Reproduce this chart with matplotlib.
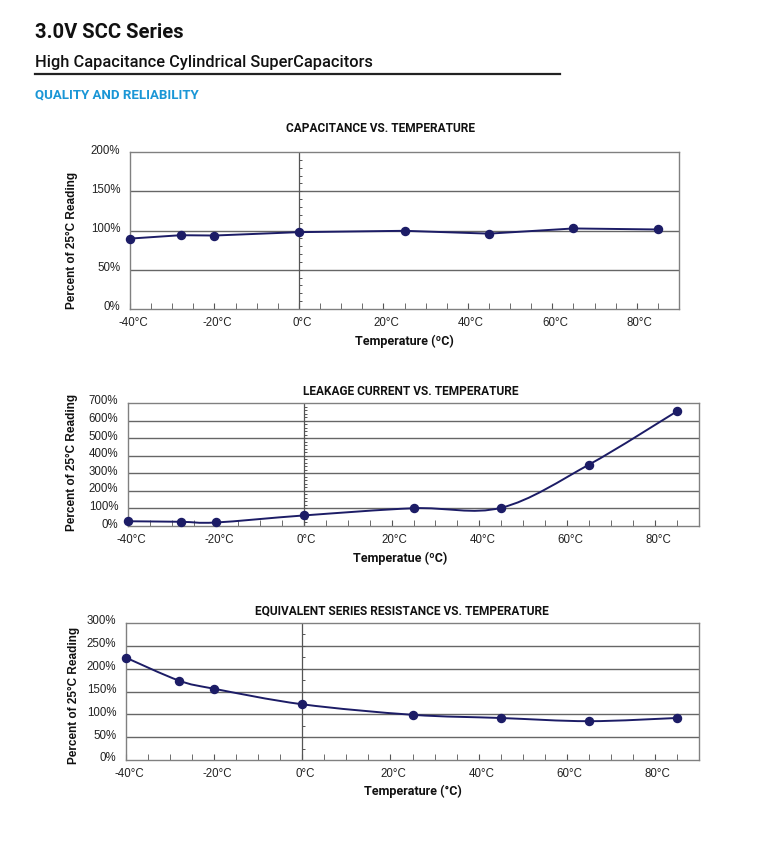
import matplotlib.pyplot as plt
import numpy as np
from matplotlib.path import Path
from matplotlib.patches import PathPatch
from matplotlib.transforms import ScaledTranslation

plt.rcParams['font.family'] = ['Roboto', 'DejaVu Sans']

temps = [-40, -28, -20, 0, 25, 45, 65, 85]
capacitance = [89.7, 94, 93.6, 97.9, 99.6, 96, 102.6, 101.3]
leakage = [27, 24, 20, 60, 101, 104, 350, 653]
esr = [224, 174, 156, 122, 99, 92, 85, 92]

x_ticks = [-40, -20, 0, 20, 40, 60, 80]
x_labels = [f'{t}°C' for t in x_ticks]

W, H = 765, 853
LINE = '#1c1c66'
GRID = '#666666'
TICKFONT = ['Liberation Sans', 'DejaVu Sans']


def box(l, t, r, b):
    return [l / W, 1 - b / H, (r - l) / W, (b - t) / H]


def smooth_path(xs, ys):
    # catmull-rom through the points, as bezier segments
    p = np.column_stack([xs, ys]).astype(float)
    ext = np.vstack([p[0], p, p[-1]])
    verts = [p[0]]
    codes = [Path.MOVETO]
    for i in range(len(p) - 1):
        p0, p1, p2, p3 = ext[i], ext[i + 1], ext[i + 2], ext[i + 3]
        verts += [p1 + (p2 - p0) / 6, p2 - (p3 - p1) / 6, p2]
        codes += [Path.CURVE4] * 3
    return Path(verts, codes)


def chart(fig, rect, values, ymax, ystep, zstep, smooth, title, title_xy,
          xlabel, xlabel_xy, ylabel_xy):
    ax = fig.add_axes(box(*rect))
    ax.set_xlim(-40, 90)
    ax.set_ylim(0, ymax)
    yt = np.arange(0, ymax + 1, ystep)
    ax.set_yticks(yt)
    ax.set_yticklabels([f'{int(v)}%' for v in yt], fontsize=8.3,
                       color='#222222', family=TICKFONT)
    ax.set_xticks(x_ticks)
    ax.set_xticklabels(x_labels, fontsize=8.3, color='#222222',
                       family=TICKFONT)
    ax.set_xticks(np.arange(-40, 90, 5), minor=True)
    ax.tick_params(axis='x', which='both', direction='in', length=4,
                   color='#555555', pad=5)
    ax.tick_params(axis='y', length=0, pad=7)
    for lab in ax.get_yticklabels():
        lab.set_transform(lab.get_transform() +
                          ScaledTranslation(0, 4 / 100, fig.dpi_scale_trans))
    for lab in ax.get_xticklabels():
        lab.set_transform(lab.get_transform() +
                          ScaledTranslation(3 / 100, 0, fig.dpi_scale_trans))
    for y in yt[1:-1]:
        ax.axhline(y, color=GRID, lw=1.0, zorder=1)
    for s in ax.spines.values():
        s.set_color('#808080')
        s.set_linewidth(1.0)
    ax.axvline(0, color='#555555', lw=0.9, zorder=1)
    zt = np.arange(zstep, ymax, zstep)
    ax.plot(np.zeros(len(zt)), zt, ls='none', marker=1, ms=2.5,
            mew=0.7, color='#555555', zorder=1)

    if smooth:
        ax.add_patch(PathPatch(smooth_path(temps, values), fill=False,
                               edgecolor=LINE, lw=1.4, zorder=3))
    else:
        ax.plot(temps, values, color=LINE, lw=1.4, zorder=3)
    ax.plot(temps, values, ls='none', marker='o', ms=5.8, color=LINE,
            zorder=4, clip_on=False)

    fig.text(title_xy[0] / W, 1 - title_xy[1] / H, title, fontsize=8.6,
             fontweight='bold', ha='center', va='center', color='#111111')
    fig.text(xlabel_xy[0] / W, 1 - xlabel_xy[1] / H, xlabel, fontsize=9,
             fontweight='bold', ha='center', va='center', color='#111111')
    fig.text(ylabel_xy[0] / W, 1 - ylabel_xy[1] / H, 'Percent of 25°C Reading',
             fontsize=8.5, fontweight='bold', ha='center', va='center',
             rotation=90, color='#111111', family=TICKFONT)
    return ax


fig = plt.figure(figsize=(W / 100, H / 100), dpi=100)

fig.text(35 / W, 1 - 33 / H, '3.0V SCC Series', fontsize=14.5,
         fontweight='bold', va='center', color='#111111')
fig.text(35 / W, 1 - 62 / H, 'High Capacitance Cylindrical SuperCapacitors',
         fontsize=11.8, fontweight='medium', va='center', color='#111111')
fig.add_artist(plt.Line2D([35 / W, 560 / W], [1 - 75 / H, 1 - 75 / H],
                          color='#222222', lw=1.6))
fig.text(35 / W, 1 - 95 / H, 'QUALITY AND RELIABILITY', fontsize=9.5,
         fontweight='bold', va='center', color='#1a96d6')

chart(fig, (130, 153, 679, 310), capacitance, 200, 50, 10, False,
      'CAPACITANCE VS. TEMPERATURE', (381, 129),
      'Temperature (ºC)', (404, 341), (72, 240))
chart(fig, (128, 404, 699, 527), leakage, 700, 100, 20, True,
      'LEAKAGE CURRENT VS. TEMPERATURE', (411, 392),
      'Temperatue (ºC)', (400, 558), (72, 462))
chart(fig, (126, 624, 699, 761), esr, 300, 50, 25, True,
      'EQUIVALENT SERIES RESISTANCE VS. TEMPERATURE', (402, 611),
      'Temperature (°C)', (413, 791), (74, 695))

fig.savefig('out.png', dpi=100)
